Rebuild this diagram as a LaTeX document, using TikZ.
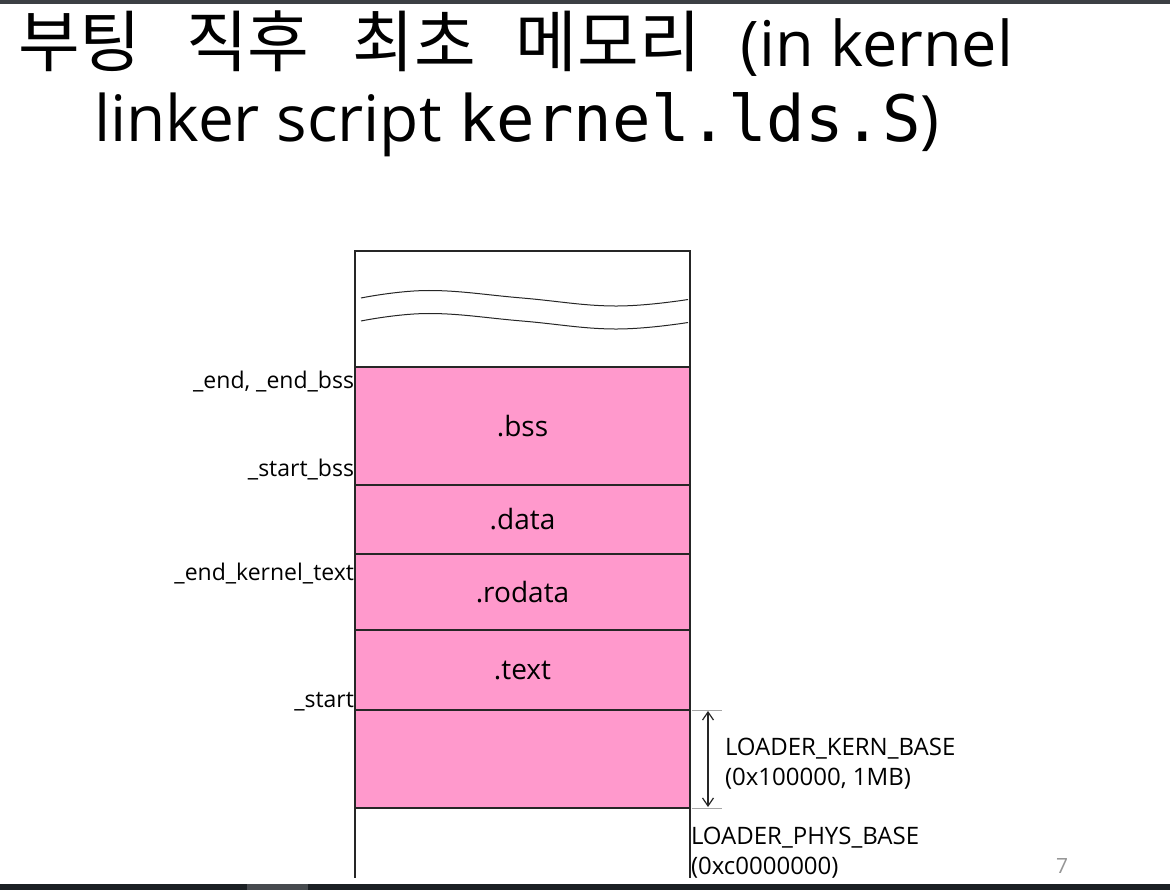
\documentclass[tikz,border=0pt]{standalone}
\usepackage{fontspec}
\setmainfont{Open Sans}
\setmonofont{DejaVu Sans Mono}
\newfontfamily\krfont{Noto Sans CJK KR}
\newcommand{\krword}[1]{{\krfont\fontsize{67}{72}\selectfont #1}}
\usepackage{tikz}
\usetikzlibrary{arrows.meta, positioning, calc}

\definecolor{secpink}{RGB}{255,153,204}
\definecolor{lineDark}{RGB}{38,38,38}
\definecolor{tickGray}{RGB}{165,165,165}
\definecolor{pageGray}{RGB}{150,150,150}
\definecolor{topbar}{RGB}{60,63,68}
\definecolor{botbar}{RGB}{27,32,36}
\definecolor{botseg}{RGB}{70,74,78}

\begin{document}
\begin{tikzpicture}[x=1pt, y=-1pt,
  every node/.style={inner sep=0pt, outer sep=0pt},
  memline/.style={draw=lineDark, line width=1.5pt},
  secbox/.style={memline, fill=secpink, minimum width=335pt, anchor=north west,
    font=\fontsize{28}{34}\selectfont},
  symlbl/.style={anchor=base east, font=\fontsize{23}{28}\selectfont},
  baselbl/.style={anchor=north west, align=left, font=\fontsize{24}{30}\selectfont}]
\useasboundingbox (0,0) rectangle (1170,890);
\fill[white] (0,0) rectangle (1170,890);

% Window bars
\fill[topbar] (0,0) rectangle (1170,4);
\fill[botbar] (0,884) rectangle (1170,890);
\fill[botseg] (247,884) rectangle (308,890);

% Title
\node[anchor=base west, font=\fontsize{63}{72}\selectfont] (titleA) at (18,67)
  {\krword{부팅}\hspace{45pt}\krword{직후}\hspace{43pt}\krword{최초}\hspace{40pt}\krword{메모리}\hspace{40pt}(in kernel};
\node[anchor=base west, font=\fontsize{64}{72}\selectfont] (titleB) at (94,142)
  {linker script {\ttfamily kernel.lds.S})};

% Free memory on top, with break marks
\node[memline, minimum width=335pt, minimum height=116pt, anchor=north west] (freemem) at (355,251) {};
\foreach \dy in {0,23} {
  \draw[lineDark, line width=1pt] plot[smooth, tension=0.7]
    coordinates {(361,298+\dy) (429,290.5+\dy) (522,298+\dy) (614,306+\dy) (688,299.5+\dy)};
}

% Kernel sections
\foreach \name/\top/\bot/\lab in {bss/367/485/.bss, data/485/554/.data,
    rodata/554/630/.rodata, text/630/710/.text, loader/710/808/{}} {
  \pgfmathsetmacro\h{\bot-\top}
  \node[secbox, minimum height=\h pt] (\name) at (355,\top) {\lab};
}

% Open bottom below the loader area
\draw[memline] (loader.south west) -- ++(0,70);
\draw[memline] (loader.south east) -- ++(0,70);

% Linker symbols
\node[symlbl] (endbss) at (354,389) {\_end, \_end\_bss};
\node[symlbl] (startbss) at (354,476.5) {\_start\_bss};
\node[symlbl] (endtext) at (354,580) {\_end\_kernel\_text};
\node[symlbl] (start) at (354,707) {\_start};

% Size of the loader area
\draw[tickGray, line width=1pt] ($(loader.north east)+(2,0)$) -- ++(30,0);
\draw[tickGray, line width=1pt] ($(loader.south east)+(2,0)$) -- ++(30,0);
\coordinate (kTop) at ($(loader.north east)+(18,1)$);
\coordinate (kBot) at ($(loader.south east)+(18,-1)$);
\draw[lineDark, line width=1.2pt, {Straight Barb[length=8pt,width=11pt]}-{Straight Barb[length=8pt,width=11pt]}]
  (kTop) -- (kBot);

\node[baselbl] (kernbase) at (725,738) {LOADER\_KERN\_BASE\\(0x100000, 1MB)};
\node[baselbl] (physbase) at (691,827) {LOADER\_PHYS\_BASE\\(0xc0000000)};

% Slide number
\node[anchor=base west, text=pageGray, font=\fontsize{21}{24}\selectfont] (pagenum) at (1056,873) {7};
\end{tikzpicture}
\end{document}
